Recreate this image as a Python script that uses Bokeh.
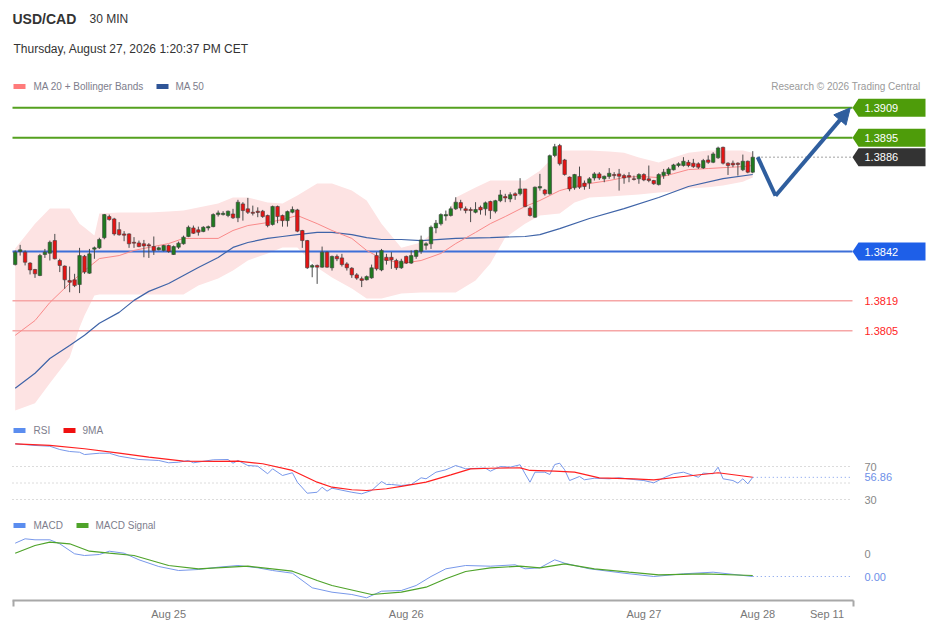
import numpy as np
from bokeh.plotting import figure
from bokeh.layouts import column
from bokeh.models import Range1d, FixedTicker, Arrow, NormalHead, ColumnDataSource
from bokeh.core.properties import value
from bokeh.embed import file_html
from bokeh.resources import INLINE

# ---------------- data ----------------
symbol = "USD/CAD"
timeframe = "30 MIN"
stamp = "Thursday, August 27, 2026 1:20:37 PM CET"
copyright_txt = "Research \u00a9 2026 Trading Central"

opens = [
1.38359,1.38420,1.38417,1.38366,1.38336,1.38308,1.38406,1.38412,1.38471,1.38378,
1.38352,1.38285,1.38288,1.38266,1.38398,1.38319,1.38431,1.38437,1.38484,1.38583,
1.38572,1.38522,1.38502,1.38502,1.38463,1.38460,1.38456,1.38451,1.38443,1.38428,
1.38425,1.38448,1.38406,1.38440,1.38456,1.38490,1.38530,1.38521,1.38513,1.38530,
1.38536,1.38592,1.38592,1.38588,1.38595,1.38577,1.38642,1.38619,1.38603,1.38608,
1.38608,1.38588,1.38546,1.38630,1.38588,1.38564,1.38603,1.38614,1.38518,1.38471,
1.38347,1.38355,1.38347,1.38417,1.38344,1.38397,1.38390,1.38362,1.38342,1.38311,
1.38293,1.38288,1.38297,1.38401,1.38334,1.38393,1.38393,1.38378,1.38344,1.38397,
1.38366,1.38397,1.38421,1.38449,1.38456,1.38530,1.38549,1.38586,1.38588,1.38619,
1.38648,1.38619,1.38616,1.38603,1.38626,1.38619,1.38653,1.38608,1.38657,1.38676,
1.38665,1.38689,1.38689,1.38712,1.38622,1.38580,1.38716,1.38707,1.38689,1.38868,
1.38914,1.38847,1.38767,1.38717,1.38770,1.38739,1.38739,1.38763,1.38782,1.38759,
1.38770,1.38779,1.38782,1.38774,1.38774,1.38759,1.38759,1.38779,1.38759,1.38751,
1.38732,1.38774,1.38782,1.38801,1.38821,1.38821,1.38836,1.38832,1.38829,1.38810,
1.38847,1.38836,1.38857,1.38906,1.38832,1.38832,1.38832,1.38801,1.38841,1.38790]

highs = [
1.38425,1.38451,1.38425,1.38370,1.38339,1.38409,1.38432,1.38471,1.38502,1.38386,
1.38355,1.38350,1.38316,1.38437,1.38404,1.38432,1.38443,1.38484,1.38595,1.38592,
1.38577,1.38557,1.38515,1.38505,1.38487,1.38471,1.38474,1.38459,1.38490,1.38443,
1.38451,1.38452,1.38448,1.38466,1.38494,1.38541,1.38541,1.38536,1.38538,1.38541,
1.38598,1.38611,1.38608,1.38611,1.38619,1.38661,1.38650,1.38670,1.38634,1.38626,
1.38614,1.38592,1.38634,1.38634,1.38592,1.38611,1.38630,1.38619,1.38521,1.38474,
1.38362,1.38359,1.38443,1.38420,1.38401,1.38406,1.38409,1.38370,1.38347,1.38319,
1.38303,1.38308,1.38359,1.38417,1.38432,1.38409,1.38417,1.38386,1.38386,1.38401,
1.38425,1.38428,1.38494,1.38463,1.38541,1.38567,1.38598,1.38611,1.38630,1.38673,
1.38661,1.38630,1.38626,1.38650,1.38634,1.38653,1.38657,1.38661,1.38707,1.38689,
1.38696,1.38696,1.38762,1.38712,1.38630,1.38723,1.38782,1.38712,1.38872,1.38922,
1.38922,1.38852,1.38770,1.38782,1.38816,1.38751,1.38767,1.38790,1.38790,1.38774,
1.38809,1.38790,1.38805,1.38782,1.38790,1.38774,1.38785,1.38785,1.38821,1.38754,
1.38785,1.38805,1.38813,1.38829,1.38836,1.38860,1.38847,1.38852,1.38836,1.38852,
1.38868,1.38883,1.38909,1.38909,1.38836,1.38844,1.38836,1.38872,1.38844,1.38888]

lows = [
1.38355,1.38401,1.38355,1.38313,1.38297,1.38305,1.38390,1.38378,1.38383,1.38324,
1.38246,1.38230,1.38254,1.38226,1.38316,1.38316,1.38386,1.38432,1.38477,1.38564,
1.38494,1.38494,1.38468,1.38437,1.38437,1.38440,1.38393,1.38390,1.38404,1.38425,
1.38420,1.38414,1.38404,1.38432,1.38452,1.38487,1.38502,1.38494,1.38510,1.38518,
1.38533,1.38583,1.38588,1.38580,1.38572,1.38557,1.38564,1.38595,1.38588,1.38580,
1.38577,1.38533,1.38541,1.38552,1.38536,1.38536,1.38598,1.38510,1.38437,1.38339,
1.38300,1.38269,1.38344,1.38344,1.38331,1.38375,1.38350,1.38331,1.38297,1.38288,
1.38254,1.38285,1.38293,1.38331,1.38328,1.38359,1.38339,1.38334,1.38339,1.38362,
1.38362,1.38386,1.38409,1.38428,1.38432,1.38505,1.38541,1.38564,1.38583,1.38614,
1.38611,1.38598,1.38557,1.38598,1.38592,1.38588,1.38572,1.38598,1.38650,1.38650,
1.38650,1.38661,1.38681,1.38626,1.38583,1.38577,1.38704,1.38681,1.38685,1.38860,
1.38821,1.38774,1.38701,1.38708,1.38712,1.38708,1.38712,1.38751,1.38754,1.38743,
1.38759,1.38759,1.38704,1.38736,1.38743,1.38751,1.38736,1.38748,1.38743,1.38731,
1.38728,1.38759,1.38774,1.38798,1.38813,1.38816,1.38813,1.38810,1.38805,1.38805,
1.38829,1.38832,1.38852,1.38826,1.38777,1.38813,1.38774,1.38795,1.38785,1.38785]

closes = [
1.38417,1.38428,1.38370,1.38334,1.38316,1.38401,1.38417,1.38463,1.38386,1.38355,
1.38288,1.38277,1.38261,1.38401,1.38324,1.38409,1.38437,1.38476,1.38592,1.38569,
1.38502,1.38498,1.38496,1.38456,1.38459,1.38443,1.38446,1.38446,1.38425,1.38437,
1.38448,1.38420,1.38443,1.38459,1.38487,1.38533,1.38505,1.38510,1.38533,1.38536,
1.38592,1.38600,1.38598,1.38608,1.38577,1.38650,1.38611,1.38603,1.38598,1.38602,
1.38583,1.38541,1.38630,1.38583,1.38564,1.38606,1.38616,1.38515,1.38471,1.38344,
1.38355,1.38347,1.38417,1.38347,1.38397,1.38386,1.38359,1.38344,1.38311,1.38296,
1.38285,1.38303,1.38344,1.38339,1.38425,1.38378,1.38381,1.38344,1.38375,1.38366,
1.38401,1.38425,1.38474,1.38456,1.38533,1.38552,1.38592,1.38592,1.38619,1.38650,
1.38623,1.38611,1.38611,1.38616,1.38614,1.38647,1.38611,1.38657,1.38684,1.38670,
1.38685,1.38681,1.38712,1.38630,1.38588,1.38720,1.38723,1.38689,1.38867,1.38909,
1.38829,1.38779,1.38712,1.38779,1.38720,1.38723,1.38759,1.38782,1.38763,1.38771,
1.38785,1.38774,1.38771,1.38763,1.38767,1.38756,1.38779,1.38754,1.38751,1.38736,
1.38779,1.38790,1.38805,1.38824,1.38829,1.38841,1.38821,1.38816,1.38813,1.38844,
1.38836,1.38875,1.38903,1.38832,1.38821,1.38824,1.38826,1.38841,1.38790,1.38860]

ma20_idx = [1,5,8,12,15,18,22,25,28,32,35,38,42,45,48,52,55,58,62,65,69,72,75,79,83,
            87,90,94,97,100,104,107,111,114,117,121,124,127,131,134,137,141,144,148,150]
ma20 = [1.38029,1.38098,1.38182,1.38271,1.38331,1.38387,1.38401,1.38425,1.38439,1.38457,
        1.38481,1.38481,1.38481,1.38518,1.38541,1.38555,1.38569,1.38588,1.38550,1.38518,
        1.38481,1.38425,1.38387,1.38364,1.38378,1.38411,1.38457,1.38509,1.38550,1.38583,
        1.38630,1.38658,1.38704,1.38723,1.38737,1.38751,1.38765,1.38770,1.38765,1.38783,
        1.38802,1.38807,1.38811,1.38816,1.38821]

ma50_idx = [1,5,8,12,15,18,22,25,28,32,35,38,42,45,48,52,55,58,62,65,69,72,75,79,83,
            90,97,104,107,111,117,124,131,137,144,150]
ma50 = [1.37782,1.37852,1.37921,1.37982,1.38029,1.38085,1.38136,1.38192,1.38234,1.38271,
        1.38308,1.38345,1.38392,1.38439,1.38462,1.38481,1.38490,1.38499,1.38509,1.38509,
        1.38499,1.38485,1.38476,1.38476,1.38471,1.38481,1.38485,1.38490,1.38499,1.38527,
        1.38574,1.38620,1.38672,1.38723,1.38760,1.38779]

bb_idx = [1,5,8,12,14,15,17,18,22,25,28,32,35,38,42,45,48,52,55,58,62,65,69,72,75,79,
          83,87,90,94,97,100,104,107,111,114,117,121,124,127,131,134,137,141,144,148,150]
bb_upper = [1.38434,1.38550,1.38620,1.38620,1.38550,1.38532,1.38495,1.38597,1.38602,1.38602,
            1.38602,1.38606,1.38611,1.38625,1.38644,1.38672,1.38672,1.38648,1.38644,1.38681,
            1.38737,1.38737,1.38704,1.38658,1.38550,1.38438,1.38462,1.38541,1.38672,1.38718,
            1.38751,1.38751,1.38751,1.38797,1.38891,1.38891,1.38891,1.38886,1.38881,1.38858,
            1.38835,1.38858,1.38881,1.38891,1.38891,1.38891,1.38881]
bb_lower = [1.37679,1.37712,1.37805,1.37926,1.38066,1.38122,1.38215,1.38220,1.38220,1.38220,
            1.38220,1.38220,1.38220,1.38262,1.38294,1.38331,1.38378,1.38411,1.38439,1.38439,
            1.38345,1.38299,1.38248,1.38201,1.38201,1.38224,1.38229,1.38229,1.38229,1.38285,
            1.38364,1.38485,1.38550,1.38588,1.38597,1.38648,1.38672,1.38676,1.38681,1.38686,
            1.38695,1.38700,1.38714,1.38720,1.38728,1.38745,1.38765]

rsi_idx = [1,5,8,10,12,14,15,18,20,22,24,26,30,32,34,36,37,41,44,45,46,48,50,52,53,55,
           57,58,60,62,63,64,65,69,71,73,75,76,77,79,81,83,84,86,88,90,92,95,96,97,99,
           101,103,104,105,106,108,109,110,111,112,113,115,116,118,121,123,126,128,130,
           132,134,136,138,139,140,142,143,144,146,147,148,149,150]
rsi = [97.5,95.5,94.6,90.6,88.2,87.3,84.5,86.1,86.1,82.5,80.5,78.5,77.3,74.5,75.2,77.3,
       74.5,78.1,78.5,74.0,77.3,71.2,70.4,61.2,67.2,59.1,62.4,51.0,37.6,38.8,44.9,40.1,
       43.7,38.8,36.9,40.9,51.8,48.2,48.2,47.0,48.2,56.3,55.1,63.1,66.0,71.2,67.2,67.9,
       68.0,64.3,70.0,69.2,72.1,61.2,51.0,63.1,63.1,60.3,72.4,74.0,66.0,53.0,57.9,53.9,
       55.8,55.1,56.3,54.2,53.0,50.2,56.3,61.2,63.1,59.1,57.0,61.9,61.2,69.2,55.1,53.0,
       49.8,55.1,49.0,56.86]
rsi_ma_idx = [1,8,15,22,28,35,42,46,51,57,62,65,69,72,76,79,84,89,93,97,103,105,110,114,
              119,126,130,136,143,150]
rsi_ma = [97.5,95.5,91.5,86.1,81.3,76.4,76.1,76.4,73.3,65.2,51.0,44.9,41.8,40.9,43.0,45.8,
          51.0,59.9,67.2,67.9,68.4,65.2,64.3,63.1,56.3,55.1,53.9,57.9,62.4,57.0]
rsi_levels = [70, 30]

macd_idx = [1,3,5,8,10,13,15,18,20,23,26,30,34,38,42,46,50,53,57,61,65,69,72,75,79,82,
            85,88,92,97,102,104,107,110,112,117,124,130,136,142,150]
macd = [0.000103,0.000147,0.000137,0.000137,0.000097,-0.000003,-0.000020,-0.000010,
        0.000023,0.000003,-0.000063,-0.000130,-0.000170,-0.000160,-0.000137,-0.000120,
        -0.000143,-0.000170,-0.000197,-0.000343,-0.000387,-0.000410,-0.000443,-0.000377,
        -0.000370,-0.000320,-0.000230,-0.000153,-0.000120,-0.000127,-0.000113,-0.000153,
        -0.000143,-0.000063,-0.000097,-0.000153,-0.000197,-0.000230,-0.000203,-0.000187,
        -0.000230]
signal_idx = [1,5,8,12,16,20,25,32,38,48,57,62,65,73,79,84,88,92,97,103,107,112,118,125,
              131,140,150]
signal = [0.000003,0.000080,0.000113,0.000097,0.000023,0.000003,-0.000020,-0.000120,
          -0.000153,-0.000127,-0.000177,-0.000270,-0.000320,-0.000410,-0.000387,-0.000337,
          -0.000253,-0.000180,-0.000143,-0.000127,-0.000143,-0.000103,-0.000153,-0.000187,
          -0.000213,-0.000203,-0.000220]
macd_zero_label = "0"
macd_last_label = "0.00"

tick_idx = [32, 80, 128, 151, 165]
tick_labels = ["Aug 25", "Aug 26", "Aug 27", "Aug 28", "Sep 11"]

resistances = [1.3909, 1.3895]
last_price = 1.3886
pivot = 1.3842
supports = [1.3819, 1.3805]
forecast_idx = [151.0, 154.6, 169.7]
forecast_price = [1.3886, 1.3868, 1.3909]

# ---------------- layout helpers (page pixels -> data units) ----------------
W = 926
PX0, STEP = 14.7, 4.95
def X(px):
    return 1 + (px - PX0) / STEP
PPX = 0.00004664
def YM(py):
    return 1.3842 + (251 - py) * PPX
def YR(py):
    return 50 + (482.5 - py) / 0.825
def YC(py):
    return (553 - py) * 1e-5

FONT = value("Liberation Sans")
xr = Range1d(X(0), X(W))

def make_fig(h, yr, with_axis=False):
    p = figure(frame_width=W, frame_height=h, x_range=xr, y_range=yr,
               toolbar_location=None, output_backend="svg", title=None,
               x_axis_location="below" if with_axis else None, y_axis_location=None,
               min_border_left=0, min_border_right=0, min_border_top=0, min_border_bottom=0,
               background_fill_color="white", border_fill_color="white",
               outline_line_color=None)
    p.grid.visible = False
    return p

def txt(p, x, y, s, size, color, align="left", bold=False):
    p.text(x=[x], y=[y], text=[s], text_font=FONT, text_font_size=size,
           text_color=color, text_align=align, text_baseline="middle",
           text_font_style="bold" if bold else "normal")

def swatch(p, px_left, px_right, yfn, py, color):
    p.quad(left=[X(px_left)], right=[X(px_right)], top=[yfn(py - 2.5)],
           bottom=[yfn(py + 2.5)], fill_color=color, line_color=None)

# ---------------- main price panel ----------------
pm = make_fig(418, Range1d(YM(418), YM(0)))

pm.varea(x=bb_idx, y1=bb_lower, y2=bb_upper, fill_color="#fde3e3", fill_alpha=1)

lvl_x0, lvl_x1 = X(12), X(852)
res_line, res_tag = "#55a11f", "#4e9c0a"
piv_line, piv_tag = "#3d6fd8", "#1e5fe8"
sup_line, sup_txt = "#f6a6a6", "#ff2424"
pm.segment(x0=[lvl_x0]*2, x1=[lvl_x1]*2, y0=resistances, y1=resistances,
           line_color=res_line, line_width=2)
pm.segment(x0=[lvl_x0], x1=[lvl_x1], y0=[pivot], y1=[pivot], line_color=piv_line, line_width=2)
pm.segment(x0=[lvl_x0]*2, x1=[lvl_x1]*2, y0=supports, y1=supports,
           line_color=sup_line, line_width=1.5)

pm.line(ma50_idx, ma50, line_color="#3f64a8", line_width=1.2)
pm.line(ma20_idx, ma20, line_color="#f98a8a", line_width=1)

idx = np.arange(1, len(opens) + 1)
o = np.array(opens); c = np.array(closes)
src = ColumnDataSource(dict(
    x=idx, top=np.maximum(o, c), bottom=np.minimum(o, c), high=highs, low=lows,
    color=np.where(c >= o, "#1f7a1f", "#e41414")))
pm.segment(x0="x", x1="x", y0="low", y1="high", source=src, line_color="#4a4a4a", line_width=1)
pm.vbar(x="x", width=0.7, top="top", bottom="bottom", source=src,
        fill_color="color", line_color="#404040", line_width=0.6)

# last price dotted line
pm.segment(x0=[X(757)], x1=[lvl_x1], y0=[last_price], y1=[last_price],
           line_color="#444444", line_width=1, line_dash="1 3")

# forecast path
fc = "#2f5e9e"
pm.line(forecast_idx[:2], forecast_price[:2], line_color=fc, line_width=4, line_join="round")
pm.add_layout(Arrow(end=NormalHead(size=16, fill_color=fc, line_color=fc),
                    x_start=forecast_idx[1], y_start=forecast_price[1],
                    x_end=forecast_idx[2], y_end=forecast_price[2],
                    line_color=fc, line_width=4))

# price tags
h = 9 * PPX
tag_levels = resistances + [last_price, pivot]
tag_colors = [res_tag, res_tag, "#333333", piv_tag]
xs, ys = [], []
for lv in tag_levels:
    xs.append([X(852), X(858), X(925), X(925), X(858)])
    ys.append([lv, lv + h, lv + h, lv - h, lv - h])
pm.patches(xs=xs, ys=ys, fill_color=tag_colors, line_color=None)
for lv in tag_levels:
    txt(pm, X(864), lv, f"{lv:.4f}", "11px", "white")
for lv in supports:
    txt(pm, X(864), lv, f"{lv:.4f}", "11px", sup_txt)

# header
txt(pm, X(12), YM(18), symbol, "14px", "#333333", bold=True)
txt(pm, X(89), YM(18), timeframe, "12px", "#333333")
txt(pm, X(13), YM(48), stamp, "12px", "#333333")
swatch(pm, 13, 25, YM, 86, "#ff7b7b")
txt(pm, X(33), YM(86), "MA 20 + Bollinger Bands", "10px", "#7d7d8c")
swatch(pm, 156, 168, YM, 86, "#2f5597")
txt(pm, X(175), YM(86), "MA 50", "10px", "#7d7d8c")
txt(pm, X(920), YM(86), copyright_txt, "10px", "#9a9a9a", align="right")

# ---------------- RSI panel ----------------
pr = make_fig(92, Range1d(YR(510), YR(418)))
for lv in [70, 50, 30]:
    pr.segment(x0=[lvl_x0], x1=[lvl_x1], y0=[lv], y1=[lv], line_color="#b8b8b8",
               line_width=1, line_dash="1 3")
pr.line(rsi_idx, rsi, line_color="#7898ea", line_width=1)
pr.line(rsi_ma_idx, rsi_ma, line_color="#ff1f1f", line_width=1.2)
pr.segment(x0=[rsi_idx[-1]], x1=[lvl_x1], y0=[rsi[-1]], y1=[rsi[-1]],
           line_color="#7898ea", line_width=1, line_dash="1 3")
for lv in rsi_levels:
    txt(pr, X(864), lv, str(lv), "11px", "#888888")
txt(pr, X(864), rsi[-1], f"{rsi[-1]:.2f}", "11px", "#6d8fe8")
swatch(pr, 13, 25, YR, 430, "#5b8def")
txt(pr, X(33), YR(430), "RSI", "10px", "#7d7d8c")
swatch(pr, 63, 75, YR, 430, "#f01010")
txt(pr, X(82), YR(430), "9MA", "10px", "#7d7d8c")

# ---------------- MACD panel ----------------
pc = make_fig(90, Range1d(YC(600), YC(510)), with_axis=True)
pc.line(macd_idx, macd, line_color="#7898ea", line_width=1)
pc.line(signal_idx, signal, line_color="#4fa32a", line_width=1.2)
pc.segment(x0=[macd_idx[-1]], x1=[lvl_x1], y0=[macd[-1]], y1=[macd[-1]],
           line_color="#7898ea", line_width=1, line_dash="1 3")
txt(pc, X(864), 0.0, macd_zero_label, "11px", "#888888")
txt(pc, X(864), macd[-1], macd_last_label, "11px", "#6d8fe8")
swatch(pc, 13, 25, YC, 525, "#5b8def")
txt(pc, X(33), YC(525), "MACD", "10px", "#7d7d8c")
swatch(pc, 76, 88, YC, 525, "#4fa32a")
txt(pc, X(95), YC(525), "MACD Signal", "10px", "#7d7d8c")

ax = pc.xaxis[0]
ax.ticker = FixedTicker(ticks=tick_idx, minor_ticks=[X(12.5), X(852.5)])
ax.major_label_overrides = {t: l for t, l in zip(tick_idx, tick_labels)}
ax.bounds = (X(12), X(853))
ax.axis_line_color = "#a8a8a8"
ax.axis_line_width = 2
ax.major_tick_line_color = None
ax.major_tick_out = 0
ax.major_tick_in = 0
ax.minor_tick_line_color = "#a8a8a8"
ax.minor_tick_line_width = 2
ax.minor_tick_out = 6
ax.minor_tick_in = 0
ax.major_label_standoff = 1
ax.major_label_text_font_size = "11px"
ax.major_label_text_color = "#777777"
ax.major_label_text_font = "Liberation Sans"

layout = column(pm, pr, pc, spacing=0)
open("out.html", "w").write(file_html(layout, INLINE))
